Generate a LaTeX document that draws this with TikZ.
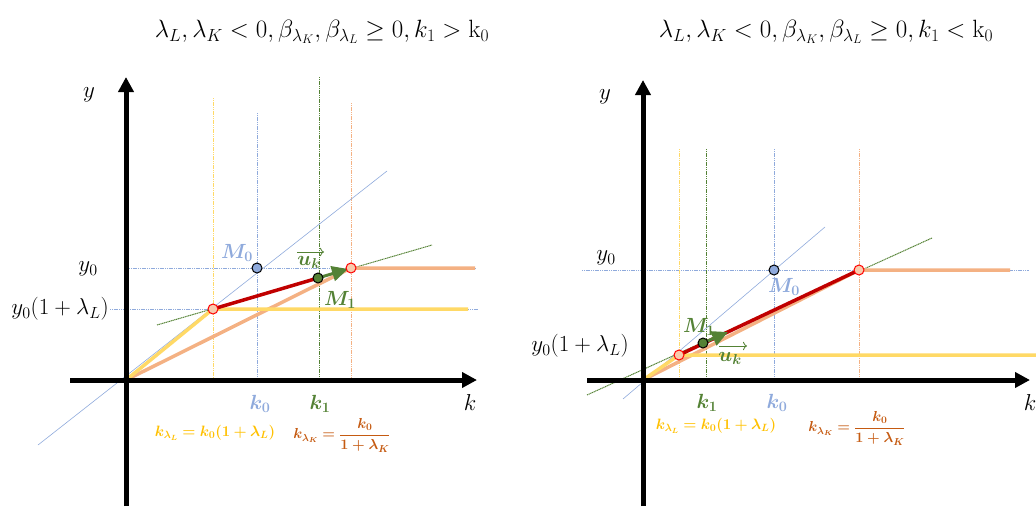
\RequirePackage{fix-cm}
\documentclass[tikz,border=0pt]{standalone}
\usepackage{amsmath,bm}
\usetikzlibrary{arrows.meta}
\definecolor{lblue}{HTML}{8FAADC}
\definecolor{yline}{HTML}{FFD966}
\definecolor{ytext}{HTML}{FFC000}
\definecolor{oline}{HTML}{F4B183}
\definecolor{otext}{HTML}{C55A11}
\definecolor{grn}{HTML}{548235}
\definecolor{dred}{HTML}{C00000}
\definecolor{pfill}{HTML}{F8CBAD}
\tikzset{
  axis/.style={line width=5pt,-{Triangle[length=15pt,width=15pt]}},
  guide/.style={line width=1pt,dash pattern=on 1.2pt off 0.6pt},
  thickl/.style={line width=3.5pt},
  redl/.style={line width=3.5pt,dred},
  kpt/.style={circle,draw=red,fill=pfill,line width=1pt,inner sep=0pt,minimum size=10pt},
  mpt/.style={circle,draw=black,line width=1pt,inner sep=0pt,minimum size=10pt},
  uarrow/.style={line width=3pt,grn,-{Triangle[length=16pt,width=15pt]}},
  title/.style={font=\fontsize{25}{30}\selectfont},
  lab/.style={font=\fontsize{23}{27}\selectfont},
  blab/.style={font=\fontsize{20.5}{24}\selectfont},
  flab/.style={font=\fontsize{15}{17}\selectfont},
  flabk/.style={font=\fontsize{14.5}{17}\selectfont},
}
\begin{document}
\begin{tikzpicture}[x=1pt,y=-1pt]
\useasboundingbox (0,0) rectangle (1036,506);
%%%%%%%%%%%%%%%% LEFT PANEL
\node[title] (t1) at (322,32) {$\lambda_L,\lambda_K<0,\beta_{\lambda_K},\beta_{\lambda_L}\geq 0,k_1>\mathrm{k}_0$};
% guides
\coordinate (ly0a) at (129,268); \coordinate (ly0b) at (475,268);
\coordinate (ly1a) at (110,309); \coordinate (ly1b) at (478,309);
\draw[guide,lblue] (ly0a) -- (ly0b);
\draw[guide,lblue] (ly1a) -- (ly1b);
\coordinate (lvya) at (213,98);  \coordinate (lvyb) at (213,380);
\coordinate (lvba) at (257,113); \coordinate (lvbb) at (257,380);
\coordinate (lvga) at (319,77);  \coordinate (lvgb) at (319,380);
\coordinate (lvoa) at (351,103); \coordinate (lvob) at (351,380);
\draw[guide,yline] (lvya) -- (lvyb);
\draw[guide,lblue] (lvba) -- (lvbb);
\draw[guide,grn] (lvga) -- (lvgb);
\draw[guide,oline] (lvoa) -- (lvob);
\coordinate (ldba) at (38,445); \coordinate (ldbb) at (387,171);
\draw[line width=0.6pt,lblue] (ldba) -- (ldbb);
\coordinate (ldga) at (157,325); \coordinate (ldgb) at (432,245);
\draw[guide,grn] (ldga) -- (ldgb);
% axes
\coordinate (lO) at (126,380);
\coordinate (lyb) at (126,506); \coordinate (lyt) at (126,77);
\coordinate (lxl) at (70,380); \coordinate (lxr) at (477,380);
% thick lines
\coordinate (lA) at (213,309); \coordinate (lB) at (351,268);
\coordinate (loe) at (475,268); \coordinate (lye) at (468,309);
\draw[thickl,oline] (lO) -- (lB) -- (loe);
\draw[thickl,yline] (lO) -- (lA) -- (lye);
\draw[axis] (lyb) -- (lyt);
\draw[axis] (lxl) -- (lxr);
\coordinate (lM1c) at (318,278);
\draw[redl] (lA) -- (lM1c);
\coordinate (lue) at (348,269);
\draw[uarrow] (lM1c) -- (lue);
\node[kpt] (lAp) at (lA) {};
\node[kpt] (lBp) at (lB) {};
\node[mpt,fill=lblue] (lM0) at (257,268) {};
\node[mpt,fill=grn] (lM1) at (lM1c) {};
% labels
\node[lab] (ly) at (89,95) {$y$};
\node[lab] (lk) at (470,403) {$k$};
\node[lab] (ly0) at (88,269) {$y_0$};
\node[lab] (ly1) at (60,309) {$y_0(1+\lambda_L)$};
\node[blab,lblue] (lM0l) at (237,253) {$\bm{M_0}$};
\node[blab,grn] (lukl) at (309,262) {$\bm{u_k}$};
\coordinate (lova) at (297,252); \coordinate (lovb) at (324,252);
\draw[grn,line width=0.8pt,-{To[length=4pt]}] (lova) -- (lovb);
\node[blab,grn] (lM1l) at (340,300) {$\bm{M_1}$};
\node[blab,lblue] (lk0) at (260,404) {$\bm{k_0}$};
\node[blab,grn] (lk1) at (320,404) {$\bm{k_1}$};
\node[flab,ytext] (lkl) at (215,433) {$\bm{k_{\lambda_L}=k_0(1+\lambda_L)}$};
\node[flabk,otext] (lkk) at (342,435) {$\bm{k_{\lambda_K}=\dfrac{k_0}{1+\lambda_K}}$};
%%%%%%%%%%%%%%%% RIGHT PANEL
\node[title] (t2) at (826,32) {$\lambda_L,\lambda_K<0,\beta_{\lambda_K},\beta_{\lambda_L}\geq 0,k_1<\mathrm{k}_0$};
\coordinate (ry0a) at (582,270); \coordinate (ry0b) at (1029,270);
\draw[guide,lblue] (ry0a) -- (ry0b);
\coordinate (rvya) at (679,149); \coordinate (rvyb) at (679,380);
\coordinate (rvga) at (706,149); \coordinate (rvgb) at (706,380);
\coordinate (rvba) at (774,149); \coordinate (rvbb) at (774,380);
\coordinate (rvoa) at (859,149); \coordinate (rvob) at (859,380);
\draw[guide,yline] (rvya) -- (rvyb);
\draw[guide,grn] (rvga) -- (rvgb);
\draw[guide,lblue] (rvba) -- (rvbb);
\draw[guide,oline] (rvoa) -- (rvob);
\coordinate (rdba) at (623,399); \coordinate (rdbb) at (825,227);
\draw[line width=0.6pt,lblue] (rdba) -- (rdbb);
\coordinate (rdga) at (587,395); \coordinate (rdgb) at (932,238);
\draw[guide,grn] (rdga) -- (rdgb);
\coordinate (rO) at (643,380);
\coordinate (ryb) at (643,506); \coordinate (ryt) at (643,80);
\coordinate (rxl) at (587,380); \coordinate (rxr) at (1030,380);
\coordinate (rA) at (679,355); \coordinate (rB) at (859,270);
\coordinate (roe) at (1010,270); \coordinate (rye) at (1036,355);
\draw[thickl,oline] (rO) -- (rB) -- (roe);
\draw[thickl,yline] (rO) -- (rA) -- (rye);
\draw[axis] (ryb) -- (ryt);
\draw[axis] (rxl) -- (rxr);
\draw[redl] (rA) -- (rB);
\coordinate (rM1c) at (703,343);
\coordinate (rue) at (728,332);
\node[blab,grn] (rM1l) at (699,327) {$\bm{M_1}$};
\draw[uarrow] (rM1c) -- (rue);
\node[kpt] (rAp) at (rA) {};
\node[kpt] (rBp) at (rB) {};
\node[mpt,fill=lblue] (rM0) at (774,270) {};
\node[mpt,fill=grn] (rM1) at (rM1c) {};
\node[lab] (ry) at (605,97) {$y$};
\node[lab] (rk) at (1030,403) {$k$};
\node[lab] (ry0) at (606,258) {$y_0$};
\node[lab] (ry1) at (580,346) {$y_0(1+\lambda_L)$};
\node[blab,lblue] (rM0l) at (784,287) {$\bm{M_0}$};
\node[blab,grn] (rukl) at (730,358) {$\bm{u_k}$};
\coordinate (rova) at (719,346); \coordinate (rovb) at (747,346);
\draw[grn,line width=0.8pt,-{To[length=4pt]}] (rova) -- (rovb);
\node[blab,grn] (rk1) at (707,403) {$\bm{k_1}$};
\node[blab,lblue] (rk0) at (777,403) {$\bm{k_0}$};
\node[flab,ytext] (rkl) at (716,426) {$\bm{k_{\lambda_L}=k_0(1+\lambda_L)}$};
\node[flabk,otext] (rkk) at (857,428) {$\bm{k_{\lambda_K}=\dfrac{k_0}{1+\lambda_K}}$};
\end{tikzpicture}
\end{document}
